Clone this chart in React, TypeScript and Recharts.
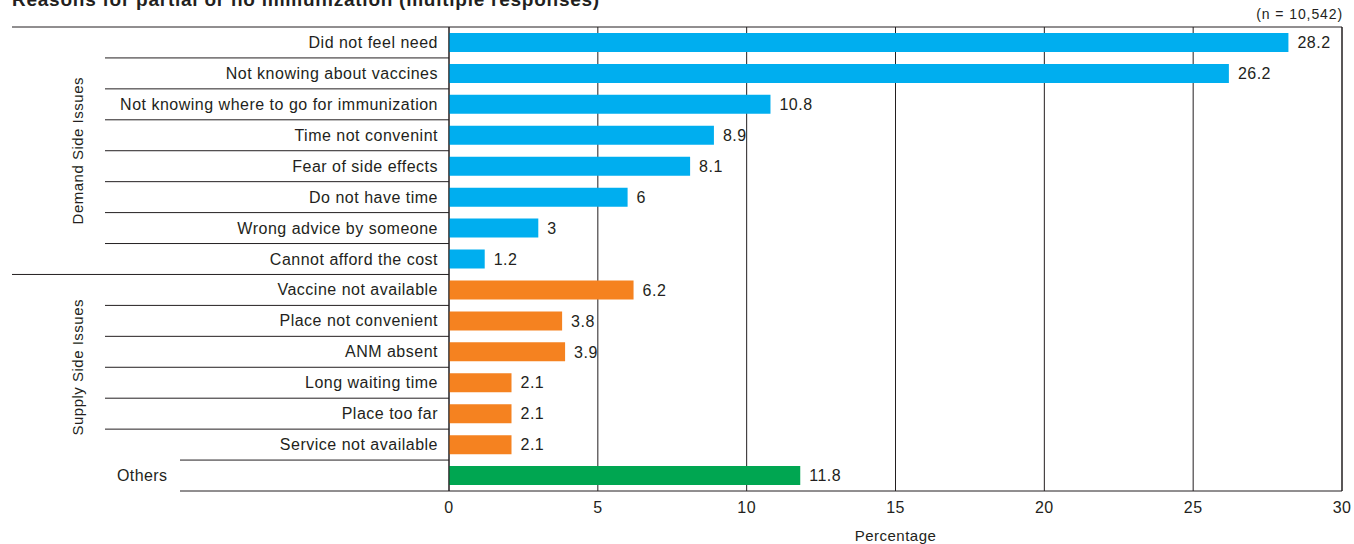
import { BarChart, Bar, XAxis, YAxis, CartesianGrid, Cell, LabelList, ReferenceLine } from 'recharts';

const categories = [
  'Did not feel need',
  'Not knowing about vaccines',
  'Not knowing where to go for immunization',
  'Time not convenint',
  'Fear of side effects',
  'Do not have time',
  'Wrong advice by someone',
  'Cannot afford the cost',
  'Vaccine not available',
  'Place not convenient',
  'ANM absent',
  'Long waiting time',
  'Place too far',
  'Service not available',
  'Others',
];
const values = [28.2, 26.2, 10.8, 8.9, 8.1, 6, 3, 1.2, 6.2, 3.8, 3.9, 2.1, 2.1, 2.1, 11.8];
const groups = [
  'demand', 'demand', 'demand', 'demand', 'demand', 'demand', 'demand', 'demand',
  'supply', 'supply', 'supply', 'supply', 'supply', 'supply',
  'others',
];
const xTicks = [0, 5, 10, 15, 20, 25, 30];

const groupColors: Record<string, string> = {
  demand: '#00AEEF',
  supply: '#F58220',
  others: '#00A651',
};
const groupTitles: Record<string, string> = {
  demand: 'Demand Side Issues',
  supply: 'Supply Side Issues',
};

const data = categories.map((name, i) => ({ name, value: values[i], group: groups[i] }));

const W = 1354;
const H = 544;
const TOP = 27;
const BOTTOM = 491;
const PLOT_LEFT = 449;
const PLOT_RIGHT = 1342;
const BAND = (BOTTOM - TOP) / categories.length;
const INK = '#231F20';
const FONT = '"Liberation Sans", Arial, sans-serif';

function RowTick(props: any) {
  const { y, payload } = props;
  const i = categories.indexOf(payload.value);
  const g = groups[i];
  const isFirstOfGroup = i === 0 || groups[i - 1] !== g;
  const isLastOfGroup = i === groups.length - 1 || groups[i + 1] !== g;
  const bottomY = y + BAND / 2;
  let lineStart = 105;
  if (g === 'others' || (isLastOfGroup && groups[i + 1] === 'others')) lineStart = 180;
  else if (isLastOfGroup) lineStart = 12;

  let groupLabel = null;
  if (isFirstOfGroup && groupTitles[g]) {
    const count = groups.filter((x) => x === g).length;
    const cy = y - BAND / 2 + (count * BAND) / 2;
    groupLabel = (
      <text
        x={78}
        y={cy}
        transform={`rotate(-90 78 ${cy})`}
        textAnchor="middle"
        dominantBaseline="central"
        fontSize={15}
        fill={INK}
        fontFamily={FONT}
        letterSpacing={0.5}
      >
        {groupTitles[g]}
      </text>
    );
  }

  return (
    <g>
      {i === 0 && <line x1={12} x2={PLOT_RIGHT} y1={y - BAND / 2} y2={y - BAND / 2} stroke={INK} strokeWidth={1} />}
      <line x1={lineStart} x2={PLOT_LEFT} y1={bottomY} y2={bottomY} stroke={INK} strokeWidth={1} />
      {groupLabel}
      {g === 'others' ? (
        <text x={117} y={y} dominantBaseline="central" fontSize={16} fill={INK} fontFamily={FONT} letterSpacing={0.4}>
          {payload.value}
        </text>
      ) : (
        <text
          x={PLOT_LEFT - 11}
          y={y}
          textAnchor="end"
          dominantBaseline="central"
          fontSize={16}
          fill={INK}
          fontFamily={FONT}
          letterSpacing={0.5}
        >
          {payload.value}
        </text>
      )}
    </g>
  );
}

export default function App() {
  return (
    <div style={{ position: 'absolute', left: 0, top: 0, width: W, height: H, background: '#fff' }}>
      <BarChart
        width={W}
        height={H}
        data={data}
        layout="vertical"
        margin={{ top: TOP, right: W - PLOT_RIGHT, bottom: 0, left: 12 }}
      >
        <CartesianGrid vertical horizontal={false} stroke={INK} strokeWidth={1} />
        <XAxis
          type="number"
          domain={[0, 30]}
          ticks={xTicks}
          height={H - BOTTOM}
          axisLine={{ stroke: INK, strokeWidth: 1 }}
          tickLine={false}
          tickSize={0}
          tickMargin={11}
          tick={{ fill: INK, fontSize: 16, fontFamily: FONT, letterSpacing: 0.4 }}
          label={{ value: 'Percentage', position: 'insideBottom', offset: 3, fill: INK, fontSize: 15, fontFamily: FONT, letterSpacing: 0.5 }}
        />
        <YAxis
          type="category"
          dataKey="name"
          width={PLOT_LEFT - 12}
          axisLine={{ stroke: INK, strokeWidth: 1 }}
          tickLine={false}
          interval={0}
          tick={<RowTick />}
        />
        <ReferenceLine x={30} stroke={INK} strokeWidth={1} />
        <Bar dataKey="value" barSize={19} isAnimationActive={false}>
          {data.map((d, i) => (
            <Cell key={i} fill={groupColors[d.group]} />
          ))}
          <LabelList
            dataKey="value"
            position="right"
            offset={9}
            fill={INK}
            fontSize={16}
            fontFamily={FONT}
            letterSpacing={0.5}
          />
        </Bar>
      </BarChart>
      <svg width={W} height={H} style={{ position: 'absolute', left: 0, top: 0, pointerEvents: 'none' }}>
        <text x={12} y={6} fontSize={19} fontWeight="bold" fill={INK} fontFamily={FONT} letterSpacing={0.75}>
          Reasons for partial or no immunization (multiple responses)
        </text>
        <text x={1343} y={19} textAnchor="end" fontSize={14} fill={INK} fontFamily={FONT} letterSpacing={0.9}>
          (n = 10,542)
        </text>
      </svg>
    </div>
  );
}
